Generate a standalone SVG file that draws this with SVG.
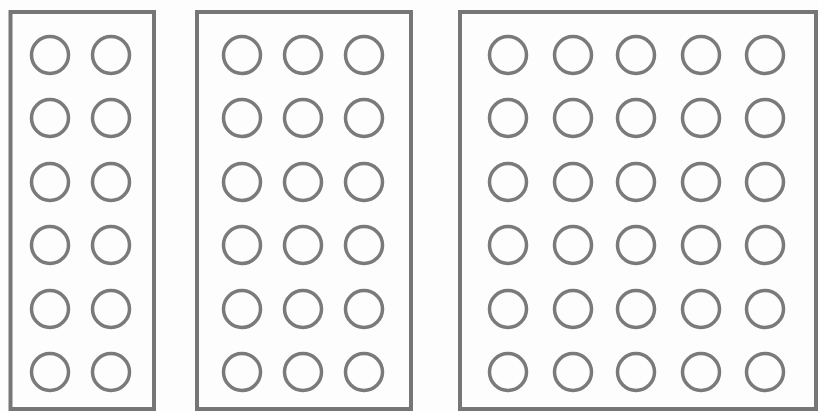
<svg xmlns="http://www.w3.org/2000/svg" width="819" height="412" viewBox="0 0 819 412">
<style>
.box{fill:none;stroke:#767676;stroke-width:4}
.c{fill:none;stroke:#7a7a7a;stroke-width:3.5}
</style>
<defs><circle id="o" r="18.5" class="c"/></defs>
<rect width="819" height="412" fill="#fdfdfd"/>
<g id="panel-left">
<rect class="box" x="10.5" y="12" width="143.5" height="397"/>
<g id="left-circles">
<use href="#o" x="50" y="55"/><use href="#o" x="111" y="55"/>
<use href="#o" x="50" y="118"/><use href="#o" x="111" y="118"/>
<use href="#o" x="50" y="182"/><use href="#o" x="111" y="182"/>
<use href="#o" x="50" y="245"/><use href="#o" x="111" y="245"/>
<use href="#o" x="50" y="309"/><use href="#o" x="111" y="309"/>
<use href="#o" x="50" y="372"/><use href="#o" x="111" y="372"/>
</g>
</g>
<g id="panel-middle">
<rect class="box" x="197" y="12" width="214" height="397"/>
<g id="middle-circles">
<use href="#o" x="242" y="55"/><use href="#o" x="303" y="55"/><use href="#o" x="364" y="55"/>
<use href="#o" x="242" y="118"/><use href="#o" x="303" y="118"/><use href="#o" x="364" y="118"/>
<use href="#o" x="242" y="182"/><use href="#o" x="303" y="182"/><use href="#o" x="364" y="182"/>
<use href="#o" x="242" y="245"/><use href="#o" x="303" y="245"/><use href="#o" x="364" y="245"/>
<use href="#o" x="242" y="309"/><use href="#o" x="303" y="309"/><use href="#o" x="364" y="309"/>
<use href="#o" x="242" y="372"/><use href="#o" x="303" y="372"/><use href="#o" x="364" y="372"/>
</g>
</g>
<g id="panel-right">
<rect class="box" x="460" y="12" width="356" height="397"/>
<g id="right-circles">
<use href="#o" x="508" y="55"/><use href="#o" x="573" y="55"/><use href="#o" x="636" y="55"/><use href="#o" x="701" y="55"/><use href="#o" x="765" y="55"/>
<use href="#o" x="508" y="118"/><use href="#o" x="573" y="118"/><use href="#o" x="636" y="118"/><use href="#o" x="701" y="118"/><use href="#o" x="765" y="118"/>
<use href="#o" x="508" y="182"/><use href="#o" x="573" y="182"/><use href="#o" x="636" y="182"/><use href="#o" x="701" y="182"/><use href="#o" x="765" y="182"/>
<use href="#o" x="508" y="245"/><use href="#o" x="573" y="245"/><use href="#o" x="636" y="245"/><use href="#o" x="701" y="245"/><use href="#o" x="765" y="245"/>
<use href="#o" x="508" y="309"/><use href="#o" x="573" y="309"/><use href="#o" x="636" y="309"/><use href="#o" x="701" y="309"/><use href="#o" x="765" y="309"/>
<use href="#o" x="508" y="372"/><use href="#o" x="573" y="372"/><use href="#o" x="636" y="372"/><use href="#o" x="701" y="372"/><use href="#o" x="765" y="372"/>
</g>
</g>
</svg>
